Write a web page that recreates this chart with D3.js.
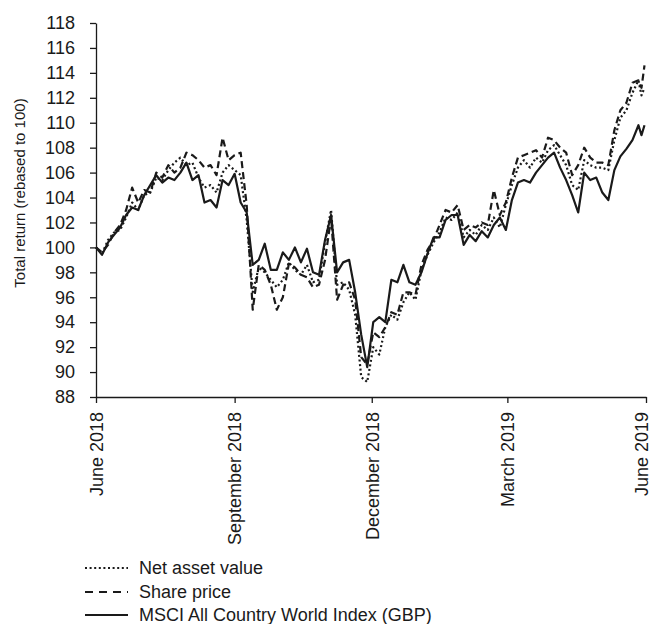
<!DOCTYPE html>
<html>
<head>
<meta charset="utf-8">
<script src="https://cdn.jsdelivr.net/npm/d3@7"></script>
<style>
  body { margin: 0; background: #fff; }
  text { font-family: "Liberation Sans", Arial, sans-serif; fill: #1a1a1a; }
</style>
</head>
<body>
<svg></svg>
<script>
const width = 652;
const height = 624;
const svg = d3.select("svg").attr("width", width).attr("height", height);

// sample dates (every ~4 days)
const dates = [
  "2018-06-01","2018-06-05","2018-06-09","2018-06-13","2018-06-17","2018-06-21","2018-06-25","2018-06-29",
  "2018-07-03","2018-07-07","2018-07-11","2018-07-15","2018-07-19","2018-07-23","2018-07-27","2018-07-31",
  "2018-08-04","2018-08-08","2018-08-12","2018-08-16","2018-08-20","2018-08-24","2018-08-28","2018-09-01",
  "2018-09-05","2018-09-09","2018-09-13","2018-09-17","2018-09-21","2018-09-25","2018-09-29","2018-10-03",
  "2018-10-07","2018-10-11","2018-10-15","2018-10-19","2018-10-23","2018-10-27","2018-10-31","2018-11-04",
  "2018-11-08","2018-11-12","2018-11-16","2018-11-20","2018-11-24","2018-11-28","2018-12-02","2018-12-06",
  "2018-12-10","2018-12-14","2018-12-18","2018-12-22","2018-12-26","2018-12-30","2019-01-03","2019-01-07",
  "2019-01-11","2019-01-15","2019-01-19","2019-01-23","2019-01-27","2019-01-31","2019-02-04","2019-02-08",
  "2019-02-12","2019-02-16","2019-02-20","2019-02-24","2019-02-28","2019-03-04","2019-03-08","2019-03-12",
  "2019-03-16","2019-03-20","2019-03-24","2019-03-28","2019-04-01","2019-04-05","2019-04-09","2019-04-13",
  "2019-04-17","2019-04-21","2019-04-25","2019-04-29","2019-05-03","2019-05-07","2019-05-11","2019-05-15",
  "2019-05-19","2019-05-23","2019-05-27","2019-05-29","2019-05-31"
];

const navValues = [
  100.0, 99.5, 100.6, 101.2, 101.4, 102.4, 103.6, 103.0,
  104.2, 104.4, 105.6, 105.4, 106.2, 106.8, 107.2, 106.6,
  106.8, 105.6, 104.8, 105.0, 104.4, 106.0, 106.6, 106.2,
  105.8, 102.2, 96.4, 98.4, 98.0, 97.4, 96.8, 97.4,
  98.8, 98.2, 97.8, 98.6, 97.2, 97.4, 100.4, 103.0,
  97.0, 97.2, 96.6, 94.6, 89.6, 89.2, 92.0, 91.4,
  93.6, 94.6, 94.2, 95.6, 96.4, 95.8, 98.2, 99.4,
  100.4, 101.2, 102.4, 102.2, 102.8, 100.8, 101.4, 101.0,
  101.8, 101.4, 102.4, 101.6, 103.4, 105.0, 106.4, 107.0,
  106.4, 107.2, 106.8, 107.8, 108.2, 107.4, 106.6, 105.0,
  104.6, 107.0, 106.6, 106.4, 106.4, 106.2, 108.6, 110.4,
  111.0, 112.4, 113.4, 112.2, 112.8
];

const shareValues = [
  100.0, 99.6, 100.2, 101.2, 101.8, 103.0, 104.8, 103.6,
  104.6, 104.4, 106.0, 105.6, 106.6, 106.0, 106.4, 107.6,
  107.4, 107.0, 106.4, 106.6, 105.8, 108.8, 107.0, 107.4,
  107.6, 103.4, 95.0, 98.6, 98.2, 97.0, 95.0, 96.0,
  98.7, 98.4, 97.8, 97.6, 96.8, 97.0, 99.0, 102.4,
  95.8, 97.0, 97.2, 95.8, 91.2, 90.6, 93.2, 92.8,
  93.6, 94.8, 94.6, 96.4, 96.4, 96.2, 98.6, 99.8,
  100.6, 101.8, 103.0, 102.8, 103.4, 101.4, 101.8, 101.6,
  102.0, 101.8, 104.6, 102.6, 103.6, 105.6, 107.2, 107.4,
  107.6, 107.8, 107.2, 108.8, 108.6, 108.0, 107.6, 105.8,
  106.6, 108.0, 107.2, 106.8, 106.8, 106.6, 109.4, 111.0,
  111.6, 113.2, 113.4, 112.8, 114.6
];

const msciValues = [
  100.0, 99.4, 100.4, 101.0, 101.6, 102.6, 103.2, 103.0,
  104.2, 105.0, 105.8, 105.2, 105.6, 105.4, 106.0, 106.8,
  105.4, 105.8, 103.6, 103.8, 103.2, 105.4, 105.0, 105.9,
  103.6, 102.8, 98.6, 99.0, 100.3, 98.2, 98.2, 99.6,
  99.0, 100.0, 98.8, 99.9, 98.0, 97.8, 100.6, 102.6,
  98.0, 98.8, 99.0, 96.4, 93.0, 90.4, 94.0, 94.4,
  94.0, 97.4, 97.2, 98.6, 97.2, 97.0, 98.0, 99.5,
  100.8, 100.8, 102.2, 102.6, 102.6, 100.2, 101.0, 100.5,
  101.3, 100.8, 101.8, 102.4, 101.4, 103.8, 105.2, 105.4,
  105.2, 106.0, 106.6, 107.2, 107.6, 106.4, 105.4, 104.2,
  102.8, 106.0, 105.4, 105.6, 104.4, 103.8, 106.2, 107.3,
  107.9, 108.6, 109.8, 109.0, 109.8
];

const yTicks = [88, 90, 92, 94, 96, 98, 100, 102, 104, 106, 108, 110, 112, 114, 116, 118];
const xTickDates = ["2018-06-01", "2018-09-01", "2018-12-01", "2019-03-01", "2019-06-01"];
const xTickLabels = ["June 2018", "September 2018", "December 2018", "March 2019", "June 2019"];
const seriesNames = ["Net asset value", "Share price", "MSCI All Country World Index (GBP)"];

const parse = d3.timeParse("%Y-%m-%d");
const ink = "#1a1a1a";

const x = d3.scaleTime()
  .domain([parse("2018-06-01"), parse("2019-06-01")])
  .range([96, 646]);

const y = d3.scaleLinear()
  .domain([88, 118])
  .range([397, 23]);

// y axis
const yAxis = svg.append("g")
  .attr("transform", "translate(96,0)")
  .call(d3.axisLeft(y).tickValues(yTicks).tickSize(6).tickSizeOuter(0).tickPadding(15));
yAxis.selectAll("text").style("font-size", "18px");

// x axis
const xAxis = svg.append("g")
  .attr("transform", "translate(0,397)")
  .call(d3.axisBottom(x)
    .tickValues(xTickDates.map(parse))
    .tickSize(6)
    .tickSizeOuter(0)
    .tickFormat((d, i) => xTickLabels[i]));
xAxis.selectAll("text")
  .style("font-size", "18px")
  .attr("transform", "rotate(-90)")
  .attr("text-anchor", "end")
  .attr("x", -15)
  .attr("y", (d, i) => i === xTickLabels.length - 1 ? -5 : 0)
  .attr("dy", "0.35em");

svg.selectAll(".domain, .tick line").attr("stroke", ink).attr("stroke-width", 1.3);

// y label
svg.append("text")
  .attr("transform", "translate(25,193) rotate(-90)")
  .attr("text-anchor", "middle")
  .style("font-size", "15px")
  .text("Total return (rebased to 100)");

const styles = [
  { values: navValues, dash: "2,2.6" },
  { values: shareValues, dash: "7,4" },
  { values: msciValues, dash: null }
];

const line = d3.line()
  .x(d => x(d.date))
  .y(d => y(d.value));

// draw msci first, then share, then nav on top
[2, 1, 0].forEach(k => {
  const s = styles[k];
  const data = dates.map((d, i) => ({ date: parse(d), value: s.values[i] }));
  svg.append("path")
    .datum(data)
    .attr("d", line)
    .attr("fill", "none")
    .attr("stroke", ink)
    .attr("stroke-width", 2.2)
    .attr("stroke-linejoin", "round")
    .attr("stroke-dasharray", s.dash);
});

// legend
const legendY = [568, 592, 615];
seriesNames.forEach((name, i) => {
  svg.append("line")
    .attr("x1", 85)
    .attr("x2", 128)
    .attr("y1", legendY[i])
    .attr("y2", legendY[i])
    .attr("stroke", ink)
    .attr("stroke-width", 2)
    .attr("stroke-dasharray", i === 0 ? "2,2.6" : i === 1 ? "8,6" : null);
  svg.append("text")
    .attr("x", 139)
    .attr("y", legendY[i])
    .attr("dy", "0.35em")
    .style("font-size", "18px")
    .text(name);
});
</script>
</body>
</html>
